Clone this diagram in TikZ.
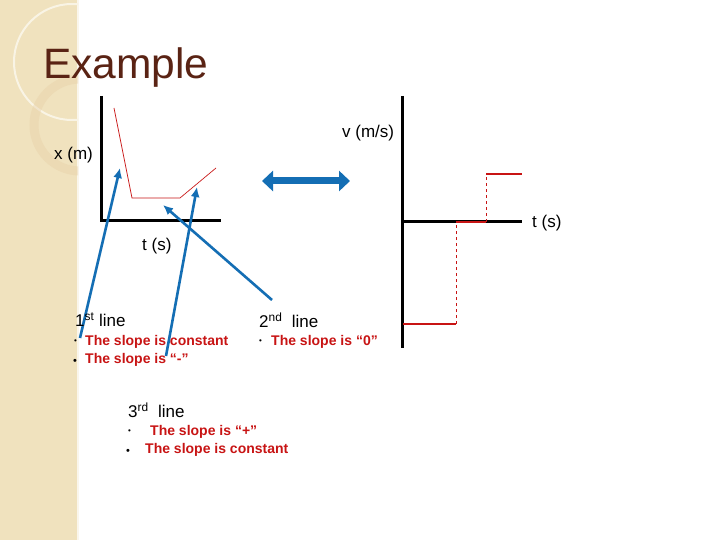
\documentclass[tikz,border=0pt]{standalone}
\usepackage{fontspec}
\setmainfont{Liberation Sans}
\usetikzlibrary{arrows.meta}
\definecolor{rd}{RGB}{200,20,20}
\definecolor{bl}{RGB}{20,110,180}
\definecolor{br}{RGB}{90,35,20}
\definecolor{bg}{RGB}{240,226,190}
\begin{document}
\begin{tikzpicture}[x=1pt,y=-1pt,
  lbl/.style={inner sep=0pt,anchor=west,font=\fontsize{17}{19}\selectfont},
  red/.style={lbl,text=rd,font=\fontsize{14}{16}\selectfont\bfseries},
  ax/.style={line width=3pt,black},
  arr/.style={bl,line width=2.6pt,-{Latex[length=10pt,width=9pt]}}]
\useasboundingbox (0,0) rectangle (720,540);
\fill[white] (0,0) rectangle (720,540);
\fill[bg] (0,0) rectangle (78,540);
\draw[white!70!bg,line width=2pt] (78,0) -- (78,540);
\begin{scope}
\clip (0,0) rectangle (78,540);
\draw[white!60!bg,line width=2pt] (72,62) circle (58);
\draw[bg!80!brown,line width=9pt,opacity=0.4] (80,125) circle (46);
\end{scope}
\node[inner sep=0pt,anchor=west,text=br,font=\fontsize{42.5}{46}\selectfont] (title) at (43,68) {Example};
% left graph
\coordinate (ly) at (101,96); \coordinate (lo) at (101,221); \coordinate (lx) at (221,221);
\draw[ax] (ly) -- (lo) -- (lx);
\coordinate (p1) at (114,108); \coordinate (p2) at (132,198); \coordinate (p3) at (180,198); \coordinate (p4) at (216,168);
\draw[rd,line width=0.7pt] (p1) -- (p2) -- (p3) -- (p4);
\node[lbl] (xm) at (54,155) {x (m)};
\node[lbl] (ts1) at (142,246) {t (s)};
% right graph
\coordinate (vy) at (402,96); \coordinate (vb) at (402,348); \coordinate (vo) at (402,222); \coordinate (vx) at (522,222);
\draw[ax] (vy) -- (vb); \draw[ax] (vo) -- (vx);
\coordinate (r1) at (403,324); \coordinate (r2) at (456,324); \coordinate (r3) at (456,222);
\coordinate (r4) at (486,222); \coordinate (r5) at (486,174); \coordinate (r6) at (522,174);
\draw[rd,line width=2.5pt] (r1) -- (r2); \draw[rd,line width=2.5pt] (r3) -- (r4); \draw[rd,line width=2.5pt] (r5) -- (r6);
\draw[rd,dashed,line width=0.7pt] (r2) -- (r3); \draw[rd,dashed,line width=0.7pt] (r4) -- (r5);
\node[lbl] (vm) at (342,133) {v (m/s)};
\node[lbl] (ts2) at (532,223) {t (s)};
% double arrow
\coordinate (d1) at (262,181); \coordinate (d2) at (350,181);
\draw[bl,line width=7pt,{Triangle[length=11pt,width=20pt]}-{Triangle[length=11pt,width=20pt]}] (d1) -- (d2);
% blue arrows
\coordinate (a1s) at (80,338); \coordinate (a1e) at (120,168);
\coordinate (a2s) at (166,356); \coordinate (a2e) at (197,187);
\coordinate (a3s) at (272,300); \coordinate (a3e) at (163,205);
\draw[arr] (a1s) -- (a1e); \draw[arr] (a2s) -- (a2e); \draw[arr] (a3s) -- (a3e);
% texts
\node[lbl,font=\fontsize{17}{19}\selectfont] (l1) at (75,320) {1\textsuperscript{st} line};
\node[lbl,font=\fontsize{8}{8}\selectfont] (b1) at (74,342) {•};
\node[red] (t1) at (85,342) {The slope is constant};
\node[lbl,font=\fontsize{11}{11}\selectfont] (b2) at (73,362) {•};
\node[red] (t2) at (85,360) {The slope is “-”};
\node[lbl,font=\fontsize{17}{19}\selectfont] (l2) at (259,320) {2\textsuperscript{nd}\ \ line};
\node[lbl,font=\fontsize{8}{8}\selectfont] (b3) at (259,342) {•};
\node[red] (t3) at (271,342) {The slope is “0”};
\node[lbl,font=\fontsize{17}{19}\selectfont] (l3) at (128,410) {3\textsuperscript{rd}\ \ line};
\node[lbl,font=\fontsize{8}{8}\selectfont] (b4) at (128,432) {•};
\node[red] (t4) at (150,432) {The slope is “+”};
\node[lbl,font=\fontsize{11}{11}\selectfont] (b5) at (126,452) {•};
\node[red] (t5) at (145,450) {The slope is constant};
\end{tikzpicture}
\end{document}
